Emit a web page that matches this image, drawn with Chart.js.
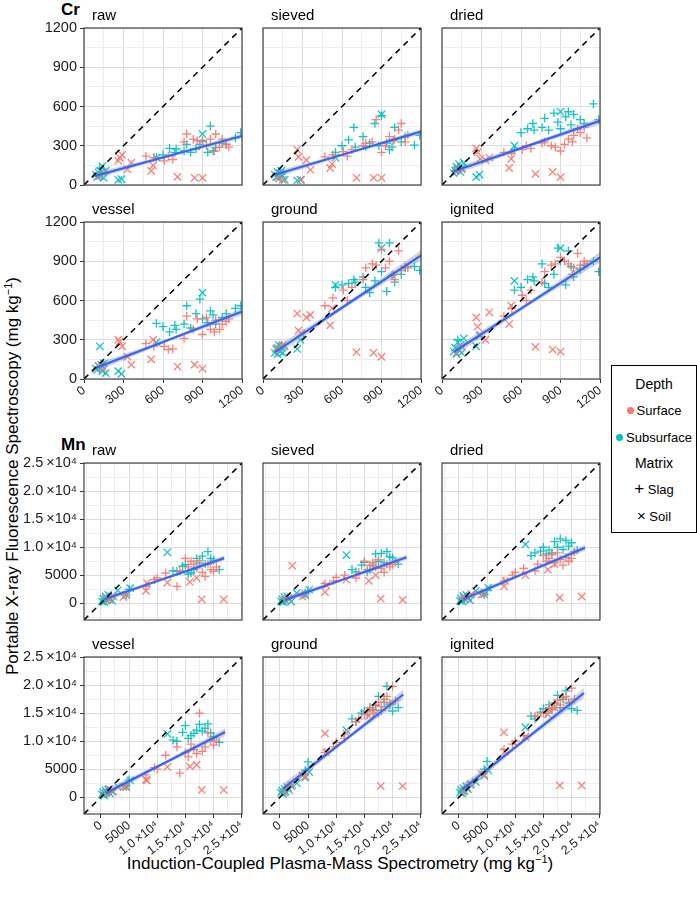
<!DOCTYPE html>
<html>
<head>
<meta charset="utf-8">
<script src="https://cdn.jsdelivr.net/npm/chart.js@4.4.1/dist/chart.umd.min.js"></script>
<style>
  body { margin: 0; width: 697px; height: 901px; position: relative; overflow: hidden; background: #fff;
         font-family: "Liberation Sans", Arial, sans-serif; color: #000; }
  canvas { position: absolute; }
  .txt { position: absolute; white-space: nowrap; line-height: 1; }
  .el { font-weight: bold; font-size: 17px; }
  .axt { font-size: 17px; transform: translate(-50%, -50%); }
  .axt sup { font-size: 11px; vertical-align: 6px; line-height: 0; }
  #legend { position: absolute; left: 611px; top: 365px; width: 84px; height: 166px; border: 1px solid #000; font-size: 13px; }
  #legend .row { position: absolute; left: 0; width: 84px; text-align: center; line-height: 16px; white-space: nowrap; }
  #legend .ttl { font-size: 14px; }
  .dot { display: inline-block; width: 7px; height: 7px; border-radius: 50%; margin-right: 3px; vertical-align: 1px; }
</style>
</head>
<body>
<div class="txt el" style="left:61px; top:1px;">Cr</div>
<div class="txt el" style="left:61px; top:436px;">Mn</div>
<div class="txt axt" style="left:12px; top:476px; transform: translate(-50%,-50%) rotate(-90deg);">Portable X-ray Fluorescence Spectroscopy (mg kg<sup>−1</sup>)</div>
<div class="txt axt" style="left:340px; top:863px;">Induction-Coupled Plasma-Mass Spectrometry (mg kg<sup>−1</sup>)</div>
<div id="legend">
  <div class="row ttl" style="top:10px;">Depth</div>
  <div class="row" style="top:37px;"><span class="dot" style="background:#F8766D"></span>Surface</div>
  <div class="row" style="top:64px;"><span class="dot" style="background:#00BFC4"></span>Subsurface</div>
  <div class="row ttl" style="top:89px;">Matrix</div>
  <div class="row" style="top:115px;"><span style="font-size:17px">+</span> Slag</div>
  <div class="row" style="top:142px;"><span style="font-size:15px">×</span> Soil</div>
</div>
<script>
// ── groups: Depth x Matrix ──
const RED = 'rgba(248,118,109,0.92)';
const CYAN = 'rgba(0,191,196,0.92)';
const GROUPS = [
  { color: RED,  style: 'cross',    radius: 4.3 },  // Surface / Slag
  { color: RED,  style: 'crossRot', radius: 5.2 },  // Surface / Soil
  { color: CYAN, style: 'cross',    radius: 4.3 },  // Subsurface / Slag
  { color: CYAN, style: 'crossRot', radius: 5.2 },  // Subsurface / Soil
];

// ── axes ──
const CR_AXIS = { min: 0, max: 1200, major: [0, 300, 600, 900, 1200], minor: [150, 450, 750, 1050] };
const MN_AXIS = { min: -3000, max: 25050, major: [0, 5000, 10000, 15000, 20000, 25000], minor: [-2500, 2500, 7500, 12500, 17500, 22500] };
const CR_TICK_LABELS = ['0', '300', '600', '900', '1200'];
const MN_TICK_LABELS = ['0', '5000', '1.0\u2009×10⁴', '1.5\u2009×10⁴', '2.0\u2009×10⁴', '2.5\u2009×10⁴'];

// ── Cr: ICP-MS values (x), same samples in every panel ──
const CR_X = [
  [470, 530, 610, 640, 675, 760, 780, 830, 860, 900, 930, 960, 990, 1000, 1030, 1050, 1080, 1100],
  [110, 150, 260, 270, 290, 330, 360, 510, 525, 710, 840, 900],
  [120, 550, 600, 650, 690, 700, 760, 780, 810, 850, 880, 900, 940, 960, 980, 1000, 1050, 1080, 1150, 1190],
  [90, 100, 110, 120, 130, 140, 150, 165, 260, 285, 550, 900],
];
// Cr pXRF values (y) per treatment
const CR_Y_RAW = [
  [220, 210, 185, 220, 195, 330, 390, 350, 340, 330, 300, 350, 260, 390, 290, 350, 310, 290],
  [70, 95, 185, 210, 230, 120, 170, 108, 150, 62, 55, 55],
  [130, 210, 230, 280, 250, 275, 260, 310, 250, 275, 310, 340, 250, 450, 260, 285, 320, 310, 360, 400],
  [80, 60, 95, 70, 100, 145, 55, 110, 40, 45, 210, 390],
];
const CR_Y_SIEVED = [
  [215, 230, 255, 220, 270, 300, 320, 330, 500, 250, 300, 370, 340, 350, 420, 470, 330, 380],
  [60, 40, 270, 215, 40, 190, 115, 130, 160, 55, 55, 55],
  [90, 250, 300, 345, 440, 290, 370, 295, 320, 470, 300, 530, 320, 270, 290, 440, 330, 370, 305, 380],
  [80, 60, 100, 50, 90, 110, 70, 40, 35, 40, 210, 540],
];
const CR_Y_DRIED = [
  [250, 240, 270, 300, 280, 320, 330, 300, 290, 260, 310, 350, 330, 380, 430, 400, 440, 360],
  [110, 120, 280, 250, 200, 190, 210, 130, 200, 85, 100, 60],
  [140, 270, 400, 430, 470, 420, 440, 510, 420, 550, 480, 430, 520, 560, 460, 540, 500, 470, 620, 500],
  [90, 110, 140, 120, 160, 100, 130, 170, 60, 80, 300, 560],
];
const CR_Y_VESSEL = [
  [270, 250, 250, 225, 230, 310, 480, 380, 460, 340, 470, 380, 360, 450, 380, 420, 440, 460],
  [100, 80, 300, 285, 250, 170, 110, 150, 300, 95, 110, 80],
  [90, 425, 400, 360, 410, 380, 420, 560, 390, 500, 610, 460, 430, 520, 490, 420, 470, 500, 540, 560],
  [80, 70, 100, 250, 110, 60, 120, 45, 60, 40, 280, 660],
];
const CR_Y_GROUND = [
  [560, 620, 680, 600, 700, 760, 850, 880, 870, 990, 850, 900, 800, 760, 980, 830, 860, 850],
  [240, 260, 500, 370, 350, 470, 490, 410, 540, 205, 200, 170],
  [250, 700, 720, 730, 760, 740, 780, 700, 660, 750, 1040, 820, 670, 1040, 790, 740, 800, 850, 860, 830],
  [200, 230, 190, 260, 210, 240, 200, 250, 230, 300, 720, 1000],
];
const CR_Y_IGNITED = [
  [480, 540, 640, 600, 680, 740, 820, 870, 880, 930, 900, 880, 800, 850, 960, 870, 900, 880],
  [200, 250, 470, 400, 340, 300, 510, 420, 560, 245, 225, 210],
  [300, 680, 700, 760, 780, 750, 880, 730, 700, 800, 1000, 900, 720, 980, 860, 780, 840, 870, 900, 820],
  [210, 240, 190, 280, 220, 260, 200, 310, 250, 330, 750, 1000],
];
// Cr fitted line: [x], [fit], [lower], [upper]
const CR_FIT_RAW     = [[85, 640, 1200], [70, 222, 375], [45, 212, 355], [95, 232, 395]];
const CR_FIT_SIEVED  = [[90, 640, 1200], [78, 243, 408], [53, 233, 388], [103, 253, 428]];
const CR_FIT_DRIED   = [[75, 640, 1200], [100, 295, 490], [70, 283, 465], [130, 307, 515]];
const CR_FIT_VESSEL  = [[90, 645, 1200], [85, 300, 515], [55, 288, 490], [115, 312, 540]];
const CR_FIT_GROUND  = [[90, 645, 1200], [205, 575, 945], [170, 560, 905], [240, 590, 985]];
const CR_FIT_IGNITED = [[95, 650, 1200], [210, 570, 930], [175, 555, 890], [245, 585, 970]];

// ── Mn ──
const MN_X = [
  [8000, 9500, 10000, 11500, 13500, 14000, 15000, 15500, 16000, 16500, 17000, 17500, 18000, 18500, 19000, 19500, 20000, 20500],
  [800, 1500, 2200, 4000, 4500, 8000, 8200, 11800, 15800, 17000, 17900, 21800],
  [1000, 4500, 5000, 12800, 13500, 14500, 15000, 15500, 16000, 16500, 17000, 17500, 18000, 18500, 19000, 19500, 20000, 21000],
  [200, 400, 600, 800, 1000, 1300, 1600, 2000, 3000, 4500, 5200, 11800],
];
const MN_Y_RAW = [
  [3000, 4200, 4500, 5400, 3000, 5800, 8000, 6500, 7500, 7000, 6300, 7600, 5500, 4800, 7000, 6000, 5700, 6500],
  [800, 600, 1200, 1100, 1500, 2200, 3600, 3700, 3800, 4500, 700, 700],
  [500, 1500, 2500, 5800, 5700, 6600, 6900, 5200, 5400, 6000, 8000, 7200, 8400, 7000, 9200, 8000, 7700, 6000],
  [300, 800, 200, 1200, 600, 1500, 900, 400, 2300, 1500, 2700, 9100],
];
const MN_Y_SIEVED = [
  [3500, 4000, 4600, 5000, 4500, 5500, 7500, 6000, 6800, 7200, 6500, 7800, 6200, 5500, 7000, 6500, 6900, 7300],
  [700, 900, 6700, 1200, 1700, 2000, 3200, 4200, 4000, 5000, 800, 600],
  [600, 1800, 2200, 6000, 5600, 6800, 7300, 5600, 6000, 6800, 8800, 7500, 8900, 7200, 9200, 8300, 8100, 7000],
  [300, 700, 200, 1100, 500, 1200, 800, 300, 1800, 1400, 2400, 8600],
];
const MN_Y_DRIED = [
  [4000, 5000, 5500, 6200, 5800, 7000, 8500, 7500, 8000, 8700, 7200, 9000, 7800, 6800, 8200, 7500, 8000, 9200],
  [1000, 800, 1600, 1500, 2000, 3000, 4000, 5000, 6000, 7000, 1000, 1200],
  [800, 1600, 2300, 8500, 9000, 9300, 10000, 8800, 9500, 9000, 11000, 10000, 11500, 9600, 11200, 10200, 10800, 9500],
  [400, 800, 300, 1300, 700, 1500, 1000, 500, 2200, 1600, 2800, 10500],
];
const MN_Y_VESSEL = [
  [4000, 5300, 5000, 7500, 9000, 4300, 8000, 7200, 9500, 8500, 7800, 15000, 8200, 9000, 11500, 10200, 9300, 10000],
  [700, 1500, 1000, 1800, 2000, 3100, 3000, 5400, 5500, 5800, 1300, 1300],
  [900, 2000, 3100, 10200, 10000, 11600, 12800, 10500, 11000, 11400, 12000, 13000, 11800, 12300, 13100, 11500, 10800, 9800],
  [500, 900, 300, 1200, 800, 1400, 700, 1000, 1900, 1800, 3000, 11300],
];
const MN_Y_GROUND = [
  [8000, 9000, 9800, 10500, 13500, 14000, 14800, 15200, 16000, 15500, 16500, 17000, 16200, 17500, 18000, 16800, 19800, 17200],
  [900, 1600, 2200, 3900, 3700, 11400, 8000, 11400, 14500, 15000, 2000, 2000],
  [1200, 4800, 6300, 14000, 13500, 15000, 15400, 14800, 16000, 15700, 16400, 18000, 15500, 17000, 19800, 16500, 15400, 16000],
  [800, 1200, 600, 1500, 1000, 1800, 1300, 2000, 2500, 3500, 4500, 12000],
];
const MN_Y_IGNITED = [
  [8500, 9500, 10000, 11000, 14500, 14500, 15000, 15300, 16000, 15800, 16800, 17300, 16500, 17800, 18000, 17000, 19500, 17500],
  [1000, 1700, 2400, 4200, 4000, 11600, 8200, 10800, 14800, 16000, 2100, 2100],
  [1300, 5000, 6400, 14500, 14000, 15200, 15800, 15000, 16500, 15600, 16800, 18200, 16000, 17500, 19000, 16800, 15800, 15500],
  [800, 1300, 700, 1600, 1100, 2000, 1400, 2200, 2700, 3800, 4800, 12500],
];
const MN_FIT_RAW     = [[600, 11200, 21900], [700, 4380, 8060], [200, 4180, 7610], [1200, 4580, 8510]];
const MN_FIT_SIEVED  = [[900, 11700, 22500], [600, 4400, 8200], [100, 4200, 7700], [1100, 4600, 8700]];
const MN_FIT_DRIED   = [[750, 11550, 22400], [700, 5300, 9900], [150, 5080, 9350], [1250, 5520, 10450]];
const MN_FIT_VESSEL  = [[880, 11450, 22050], [760, 6200, 11640], [100, 5950, 10950], [1420, 6450, 12330]];
const MN_FIT_GROUND  = [[600, 11250, 21900], [1590, 9970, 18350], [700, 9700, 17450], [2480, 10240, 19250]];
const MN_FIT_IGNITED = [[600, 11400, 22200], [1400, 10000, 18600], [500, 9700, 17700], [2300, 10300, 19500]];

// ── layout (plot areas) ──
const COL_LEFT = [84, 263, 442];
const ROW_TOP = [28, 222, 463, 657];
const PLOT_W = 158, PLOT_H = 157;
const GUTTER_L = 84, GUTTER_T = 28, GUTTER_B = 60, GUTTER_R = 10;
const GRID_MAJOR = '#dcdcdc', GRID_MINOR = '#ededed';
const TEXT = '#1a1a1a';

const PANELS = [
  { ax: CR_AXIS, lab: CR_TICK_LABELS, xs: CR_X, name: 'raw',     col: 0, row: 0, y: CR_Y_RAW,     fit: CR_FIT_RAW },
  { ax: CR_AXIS, lab: CR_TICK_LABELS, xs: CR_X, name: 'sieved',  col: 1, row: 0, y: CR_Y_SIEVED,  fit: CR_FIT_SIEVED },
  { ax: CR_AXIS, lab: CR_TICK_LABELS, xs: CR_X, name: 'dried',   col: 2, row: 0, y: CR_Y_DRIED,   fit: CR_FIT_DRIED },
  { ax: CR_AXIS, lab: CR_TICK_LABELS, xs: CR_X, name: 'vessel',  col: 0, row: 1, y: CR_Y_VESSEL,  fit: CR_FIT_VESSEL },
  { ax: CR_AXIS, lab: CR_TICK_LABELS, xs: CR_X, name: 'ground',  col: 1, row: 1, y: CR_Y_GROUND,  fit: CR_FIT_GROUND },
  { ax: CR_AXIS, lab: CR_TICK_LABELS, xs: CR_X, name: 'ignited', col: 2, row: 1, y: CR_Y_IGNITED, fit: CR_FIT_IGNITED },
  { ax: MN_AXIS, lab: MN_TICK_LABELS, xs: MN_X, name: 'raw',     col: 0, row: 2, y: MN_Y_RAW,     fit: MN_FIT_RAW },
  { ax: MN_AXIS, lab: MN_TICK_LABELS, xs: MN_X, name: 'sieved',  col: 1, row: 2, y: MN_Y_SIEVED,  fit: MN_FIT_SIEVED },
  { ax: MN_AXIS, lab: MN_TICK_LABELS, xs: MN_X, name: 'dried',   col: 2, row: 2, y: MN_Y_DRIED,   fit: MN_FIT_DRIED },
  { ax: MN_AXIS, lab: MN_TICK_LABELS, xs: MN_X, name: 'vessel',  col: 0, row: 3, y: MN_Y_VESSEL,  fit: MN_FIT_VESSEL },
  { ax: MN_AXIS, lab: MN_TICK_LABELS, xs: MN_X, name: 'ground',  col: 1, row: 3, y: MN_Y_GROUND,  fit: MN_FIT_GROUND },
  { ax: MN_AXIS, lab: MN_TICK_LABELS, xs: MN_X, name: 'ignited', col: 2, row: 3, y: MN_Y_IGNITED, fit: MN_FIT_IGNITED },
];

Chart.defaults.font.family = '"Liberation Sans", Arial, sans-serif';
Chart.defaults.color = TEXT;

// panel frame + strip title
const panelFrame = {
  id: 'panelFrame',
  afterDraw(chart, args, opts) {
    const { ctx, chartArea: a } = chart;
    ctx.save();
    ctx.strokeStyle = '#333';
    ctx.lineWidth = 1.1;
    ctx.strokeRect(a.left, a.top, a.right - a.left, a.bottom - a.top);
    ctx.fillStyle = '#000';
    ctx.font = '15px "Liberation Sans", Arial, sans-serif';
    ctx.textBaseline = 'alphabetic';
    ctx.fillText(opts.title, a.left + 8, a.top - 8);
    ctx.restore();
  }
};

const toPoints = (xs, ys) => xs.map((v, i) => ({ x: v, y: ys[i] }));

function scaleOptions(ax, labels, show, horizontal) {
  const isMajor = c => c.tick && ax.major.includes(c.tick.value);
  return {
    type: 'linear',
    min: ax.min,
    max: ax.max,
    afterBuildTicks: s => { s.ticks = ax.major.concat(ax.minor).sort((a, b) => a - b).map(v => ({ value: v })); },
    afterFit: s => { if (horizontal) s.height = GUTTER_B; else s.width = GUTTER_L; },
    border: { display: false },
    grid: {
      color: c => isMajor(c) ? GRID_MAJOR : GRID_MINOR,
      lineWidth: 1,
      drawTicks: true,
      tickLength: 4,
      tickWidth: 1,
      tickColor: c => (show && isMajor(c)) ? '#333' : 'rgba(0,0,0,0)',
    },
    ticks: {
      autoSkip: false,
      padding: horizontal ? 0 : 3,
      color: TEXT,
      font: { size: horizontal ? 12.5 : 14.5 },
      minRotation: horizontal ? 38 : 0,
      maxRotation: horizontal ? 38 : 0,
      callback: v => {
        const i = ax.major.indexOf(v);
        return (show && i >= 0) ? labels[i] : '';
      },
    },
  };
}

function buildPanel(p) {
  const cv = document.createElement('canvas');
  cv.width = GUTTER_L + PLOT_W + GUTTER_R;
  cv.height = GUTTER_T + PLOT_H + GUTTER_B;
  cv.style.left = (COL_LEFT[p.col] - GUTTER_L) + 'px';
  cv.style.top = (ROW_TOP[p.row] - GUTTER_T) + 'px';
  document.body.appendChild(cv);

  const [fx, fy, flo, fhi] = p.fit;
  const datasets = [
    // confidence band
    { data: toPoints(fx, flo), showLine: true, pointRadius: 0, borderWidth: 0, borderColor: 'rgba(0,0,0,0)', order: 3 },
    { data: toPoints(fx, fhi), showLine: true, pointRadius: 0, borderWidth: 0, borderColor: 'rgba(0,0,0,0)',
      fill: '-1', backgroundColor: 'rgba(150,150,150,0.4)', order: 3 },
    // linear fit
    { data: toPoints(fx, fy), showLine: true, pointRadius: 0, borderColor: '#3366FF', borderWidth: 2.2, order: 2 },
    // 1:1 line
    { data: [{ x: p.ax.min, y: p.ax.min }, { x: p.ax.max, y: p.ax.max }], showLine: true, pointRadius: 0,
      borderColor: '#000', borderWidth: 1.6, borderDash: [6, 5], order: 1 },
  ];
  GROUPS.forEach((g, k) => {
    datasets.push({
      data: toPoints(p.xs[k], p.y[k]),
      pointStyle: g.style,
      pointRadius: g.radius,
      pointBorderWidth: 1.3,
      borderColor: g.color,
      backgroundColor: g.color,
      order: 4 + k,
    });
  });

  new Chart(cv, {
    type: 'scatter',
    data: { datasets },
    options: {
      responsive: false,
      animation: false,
      devicePixelRatio: 1,
      layout: { padding: { top: GUTTER_T, right: GUTTER_R, bottom: 0, left: 0 } },
      plugins: {
        legend: { display: false },
        tooltip: { enabled: false },
        panelFrame: { title: p.name },
      },
      scales: {
        x: scaleOptions(p.ax, p.lab, p.row === 1 || p.row === 3, true),
        y: scaleOptions(p.ax, p.lab, p.col === 0, false),
      },
    },
    plugins: [panelFrame],
  });
}

PANELS.forEach(buildPanel);
</script>
</body>
</html>
